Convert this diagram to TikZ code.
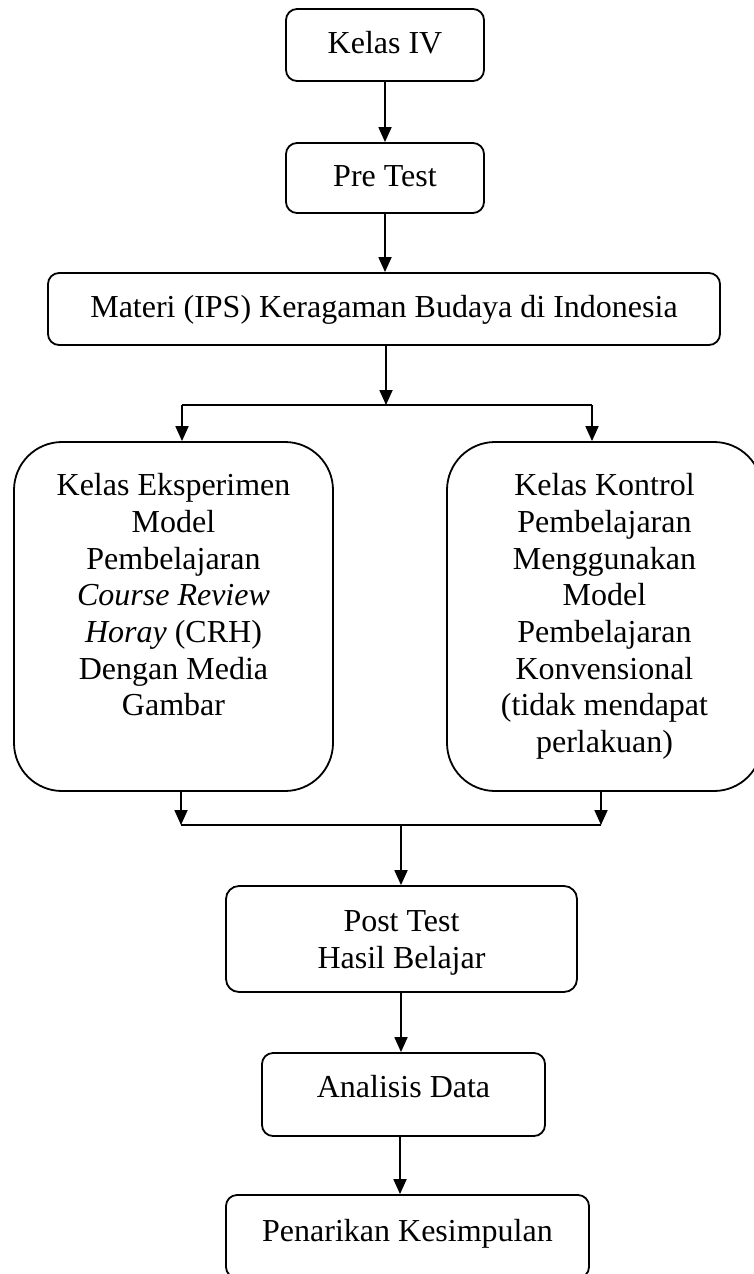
\documentclass[tikz,border=0pt]{standalone}
\usepackage{fontspec}
\setmainfont{Liberation Serif}
\usetikzlibrary{arrows.meta,calc}
\begin{document}
\begin{tikzpicture}[x=1pt,y=-1pt,
  box/.style={draw, line width=1.8pt, rounded corners=11pt, align=center, inner sep=0pt,
    font=\fontsize{32}{36.7}\selectfont},
  onebox/.style={box, text height=21.5pt, text depth=5pt},
  bigbox/.style={box, rounded corners=48pt},
  arr/.style={line width=1.8pt, -{Triangle[length=15pt,width=13pt]}},
  conn/.style={line width=1.8pt}]
\useasboundingbox (0,0) rectangle (754,1274);

\node[onebox, minimum width=198pt, minimum height=72pt] (k4) at (385,45) {Kelas IV};
\node[onebox, minimum width=198pt, minimum height=70pt] (pre) at (385,178) {Pre Test};
\node[onebox, minimum width=672pt, minimum height=72pt] (materi) at (384,309)
  {Materi (IPS) Keragaman Budaya di Indonesia};
\node[bigbox, minimum width=319pt, minimum height=349pt] (eksp) at (173.5,616.5)
  {Kelas Eksperimen\\ Model\\ Pembelajaran\\ \textit{Course Review}\\ \textit{Horay} (CRH)\\ Dengan Media\\ Gambar\\ \vphantom{(p}};
\node[bigbox, minimum width=315pt, minimum height=349pt] (kontrol) at (604.5,616.5)
  {Kelas Kontrol\\ Pembelajaran\\ Menggunakan\\ Model\\ Pembelajaran\\ Konvensional\\ (tidak mendapat\\ perlakuan)};
\node[box, rounded corners=13pt, minimum width=351pt, minimum height=106pt] (post) at (401.5,939)
  {\rule{0pt}{29pt}Post Test\\ Hasil Belajar};
\node[box, text height=21.5pt, text depth=15.5pt, minimum width=283pt, minimum height=83pt] (analisis) at (403.5,1094.5)
  {Analisis Data};
\node[box, text height=21.5pt, text depth=11.5pt, minimum width=363pt, minimum height=83pt] (kesimpulan) at (407.5,1236.5)
  {Penarikan Kesimpulan};

\coordinate (sM) at (386,405);
\coordinate (sL) at (182,405);
\coordinate (sR) at (592,405);
\coordinate (bM) at (401,825);
\coordinate (bL) at (181,825);
\coordinate (bR) at (601,825);
\coordinate (aM) at (400,1136);

\draw[arr] (k4.south) -- (pre.north);
\draw[arr] (pre.south) -- (pre.south |- materi.north);
\draw[arr] (materi.south -| sM) -- (sM);
\draw[conn] (sL) -- (sR);
\draw[arr] (sL) -- (sL |- eksp.north);
\draw[arr] (sR) -- (sR |- kontrol.north);
\draw[arr] (bL |- eksp.south) -- (bL);
\draw[arr] (bR |- kontrol.south) -- (bR);
\draw[conn] (bL) -- (bR);
\draw[arr] (bM) -- (bM |- post.north);
\draw[arr] (bM |- post.south) -- (bM |- analisis.north);
\draw[arr] (aM |- analisis.south) -- (aM |- kesimpulan.north);
\end{tikzpicture}
\end{document}
